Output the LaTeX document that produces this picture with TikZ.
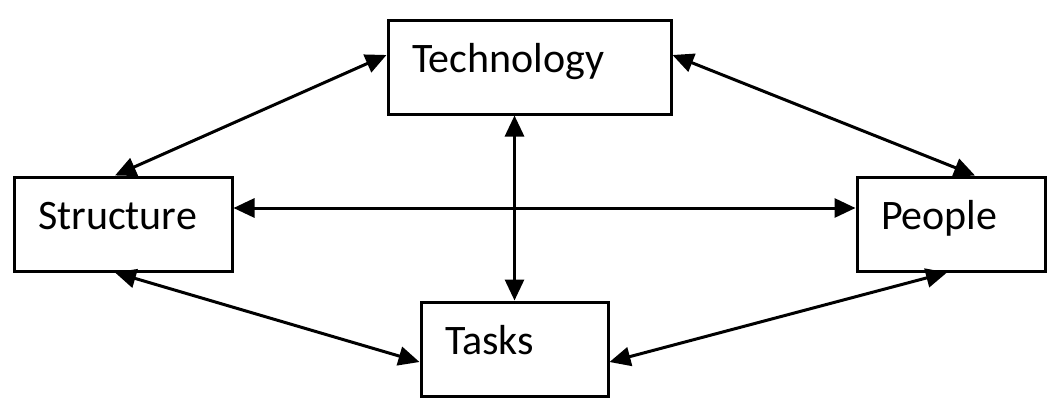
\documentclass[tikz,border=0pt]{standalone}
\usepackage{fontspec}
\setmainfont{Carlito}
\usepackage{tikz}
\usetikzlibrary{arrows.meta}

\begin{document}
\begin{tikzpicture}[x=1pt, y=-1pt,
        >={Triangle[length=21pt, width=19pt]},
        box/.style={draw, line width=3pt, inner xsep=24pt, inner ysep=0pt,
            minimum height=94pt, text width=#1, align=left,
            text height=30pt, text depth=19pt,
            font=\fontsize{42}{50}\selectfont},
        link/.style={<->, line width=3pt}]
        \useasboundingbox (0, 0) rectangle (1056, 410);

        \node[box=235pt] (tech)   at (529.5, 67) {Technology};
        \node[box=170pt] (struct) at (123, 224)  {Structure};
        \node[box=140pt] (people) at (951, 224)  {People};
        \node[box=139pt] (tasks)  at (514.5, 349) {Tasks};

        \draw[link] ([yshift=12pt]tech.west)  -- ([xshift=-8pt]struct.north);
        \draw[link] ([yshift=12pt]tech.east)  -- ([xshift=24pt]people.north);
        \draw[link] (tasks.north |- tech.south) -- (tasks.north);
        \draw[link] ([yshift=16pt]struct.east) -- ([yshift=16pt]people.west);
        \draw[link] ([xshift=-8pt]struct.south) -- ([yshift=-13pt]tasks.west);
        \draw[link] ([xshift=-4pt]people.south) -- ([yshift=-13pt]tasks.east);
    \end{tikzpicture}
\end{document}
